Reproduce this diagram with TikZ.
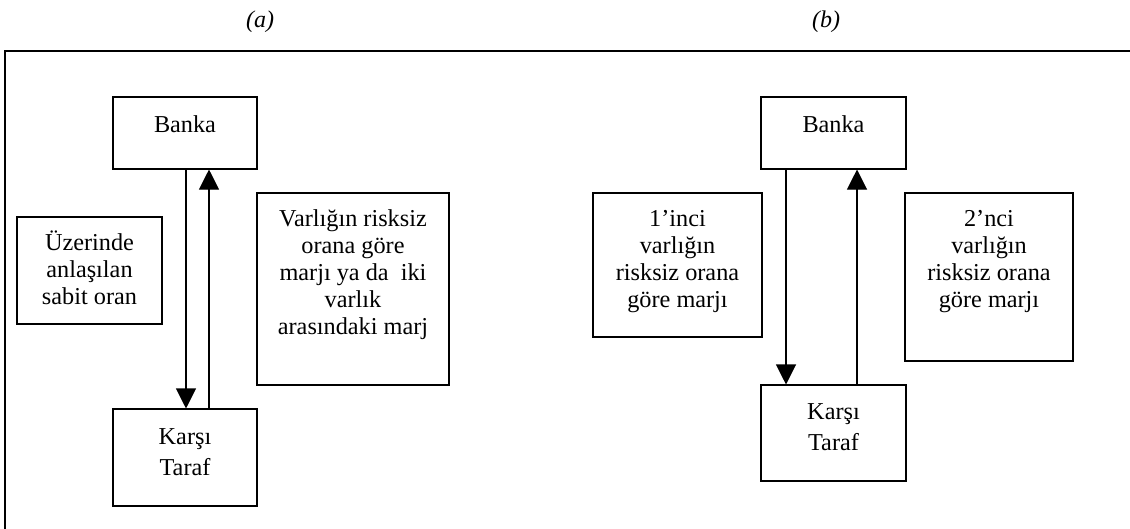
\documentclass[tikz,border=0pt]{standalone}
\usepackage{fontspec}
\setmainfont{Liberation Serif}
\usetikzlibrary{arrows.meta,fit}
\begin{document}
\begin{tikzpicture}[x=0.75pt,y=-0.75pt,
  box/.style={draw,line width=0.8pt,inner sep=0pt},
  txt/.style={anchor=base,align=center,inner sep=0pt,font=\fontsize{18.2}{20.25}\selectfont},
  txtb/.style={txt,font=\fontsize{18.2}{23}\selectfont},
  lab/.style={anchor=base,inner sep=0pt,font=\fontsize{18}{20}\selectfont\itshape},
  arr/.style={line width=0.8pt,-{Triangle[length=15pt,width=15pt]}}]
\useasboundingbox (0,0) rectangle (1130,528);
\clip (0,0) rectangle (1130,528);
\fill[white] (0,0) rectangle (1130,528);
% frame
\coordinate (frA) at (1140,51);
\coordinate (frB) at (5,540);
\draw[line width=1.6pt] (frA) -| (frB);
% labels
\node[lab] (la) at (260,28) {(a)};
\node[lab] (lb) at (826,28) {(b)};
% ----- (a)
\node[box,fit={(113,97) (257,169)}] (bankaA) {};
\node[txt] (bankaAt) at (185,132) {Banka};
\node[box,fit={(113,409) (257,506)}] (karsiA) {};
\node[txtb] (karsiAt) at (185,475) {Karşı\\Taraf};
\node[box,fit={(17,217) (162,324)}] (uzA) {};
\node[txt] (uzAt) at (89.5,304) {Üzerinde\\anlaşılan\\sabit oran};
\node[box,fit={(257,193) (449,385)}] (varA) {};
\node[txt] (varAt) at (353,334) {Varlığın risksiz\\orana göre\\marjı ya da \ iki\\varlık\\arasındaki marj};
\coordinate (xa1) at (186,0);
\coordinate (xa2) at (209,0);
\draw[arr] (bankaA.south -| xa1) -- (karsiA.north -| xa1);
\draw[arr] (karsiA.north -| xa2) -- (bankaA.south -| xa2);
% ----- (b)
\node[box,fit={(761,97) (906,169)}] (bankaB) {};
\node[txt] (bankaBt) at (833.5,132) {Banka};
\node[box,fit={(761,385) (906,481)}] (karsiB) {};
\node[txtb] (karsiBt) at (833.5,450) {Karşı\\Taraf};
\node[box,fit={(593,193) (762,337)}] (birB) {};
\node[txt] (birBt) at (677.5,307) {1’inci\\varlığın\\risksiz orana\\göre marjı};
\node[box,fit={(905,193) (1073,361)}] (ikiB) {};
\node[txt] (ikiBt) at (989,307) {2’nci\\varlığın\\risksiz orana\\göre marjı};
\coordinate (xb1) at (786,0);
\coordinate (xb2) at (857,0);
\draw[arr] (bankaB.south -| xb1) -- (karsiB.north -| xb1);
\draw[arr] (karsiB.north -| xb2) -- (bankaB.south -| xb2);
\end{tikzpicture}
\end{document}
